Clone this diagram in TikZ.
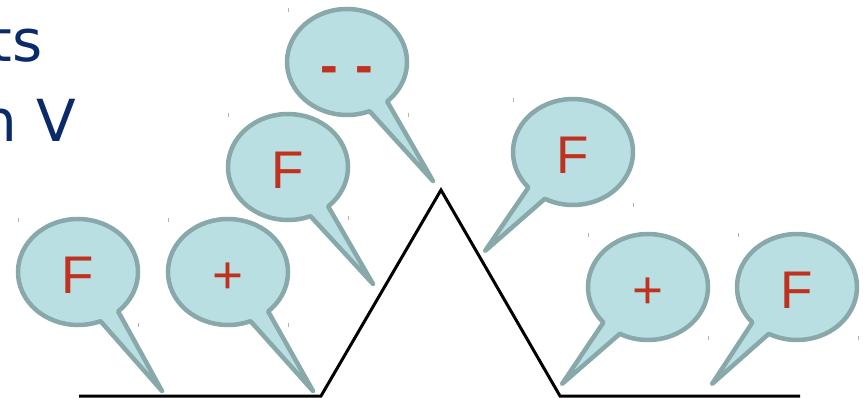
\documentclass[tikz,border=0pt]{standalone}
\usepackage{fontspec}
\setmainfont{DejaVu Sans}
\newfontfamily\bubblefont{Liberation Sans}
\usetikzlibrary{calc}

\definecolor{bubblefill}{HTML}{B9DFE3}
\definecolor{bubbleedge}{HTML}{88A8AA}
\definecolor{signred}{HTML}{C0311F}
\definecolor{titlenavy}{HTML}{0B2A6A}
\definecolor{tickgray}{HTML}{B4B4B4}

\tikzset{
  bubbleshape/.style={fill=bubblefill, draw=bubbleedge, line width=4.5pt, line join=round},
  signtext/.style={inner sep=0pt, anchor=base, text=signred,
                   font=\bubblefont\fontsize{53}{55}\selectfont},
  titletext/.style={inner sep=0pt, anchor=base east, text=titlenavy,
                    font=\fontsize{58}{60}\selectfont},
  ground/.style={draw=black, line width=3pt, line join=miter},
  cornertick/.style={draw=tickgray, line width=0.8pt},
}

% #1 name, #2 centre, #3 angle where the tail leaves the ellipse, #4 tail tip, #5 label
\newcommand\speechbubble[5]{%
  \path[bubbleshape] (#2) ++(#3:60 and 53)
     arc[start angle=#3, end angle={#3+340}, x radius=60, y radius=53]
     -- (#4) -- cycle;
  \node[signtext] (#1) at ($(#2)+(0,21.5)$) {#5};
}

% small corner marks of the bubble frames
\newcommand\framemarks[2]{%
  \draw[cornertick] ($(#1)+(0,-2)$) -- ($(#1)+(0,2)$);
  \draw[cornertick] ($(#2)+(0,-2)$) -- ($(#2)+(0,2)$);
}

\begin{document}
\begin{tikzpicture}[x=1pt, y=-1pt]
  \useasboundingbox (0,0) rectangle (863,398);

  % heading fragments
  \node[titletext] (ts) at (43,62) {ts};
  \node[titletext] (nv) at (76,142) {n V};

  % the profile: flat, up to the peak, down, flat
  \coordinate (g0) at (79,396);
  \coordinate (g1) at (321,396);
  \coordinate (peak) at (441,190);
  \coordinate (g2) at (560,396);
  \coordinate (g3) at (800,396);
  \draw[ground] (g0) -- (g1) -- (peak) -- (g2) -- (g3);

  % frame corner marks
  \coordinate (m1a) at (18,220);  \coordinate (m1b) at (138,325);
  \coordinate (m2a) at (168,220); \coordinate (m2b) at (288,325);
  \coordinate (m3a) at (228,115); \coordinate (m3b) at (348,218);
  \coordinate (m4a) at (288,10);  \coordinate (m4b) at (408,115);
  \coordinate (m5a) at (513,100); \coordinate (m5b) at (633,205);
  \coordinate (m6a) at (588,235); \coordinate (m6b) at (708,338);
  \coordinate (m7a) at (738,235); \coordinate (m7b) at (858,338);
  \framemarks{m1a}{m1b}
  \framemarks{m2a}{m2b}
  \framemarks{m3a}{m3b}
  \framemarks{m4a}{m4b}
  \framemarks{m5a}{m5b}
  \framemarks{m6a}{m6b}
  \framemarks{m7a}{m7b}

  % bubble centres and tail tips
  \coordinate (c1) at (78,272);  \coordinate (t1) at (162,391);
  \coordinate (c2) at (228,272); \coordinate (t2) at (313,391);
  \coordinate (c3) at (288,167); \coordinate (t3) at (373,284);
  \coordinate (c4) at (347,62);  \coordinate (t4) at (433,181);
  \coordinate (c5) at (573,152); \coordinate (t5) at (485,251);
  \coordinate (c6) at (648,287); \coordinate (t6) at (562,384);
  \coordinate (c7) at (797,287); \coordinate (t7) at (712,384);

  \speechbubble{b1}{c1}{68}{t1}{F}
  \speechbubble{b2}{c2}{68}{t2}{+}
  \speechbubble{b3}{c3}{68}{t3}{F}
  \speechbubble{b4}{c4}{68}{t4}{\textbf{-}\hspace{0.32em}\textbf{-}}
  \speechbubble{b5}{c5}{138}{t5}{F}
  \speechbubble{b6}{c6}{138}{t6}{+}
  \speechbubble{b7}{c7}{138}{t7}{F}
\end{tikzpicture}
\end{document}
